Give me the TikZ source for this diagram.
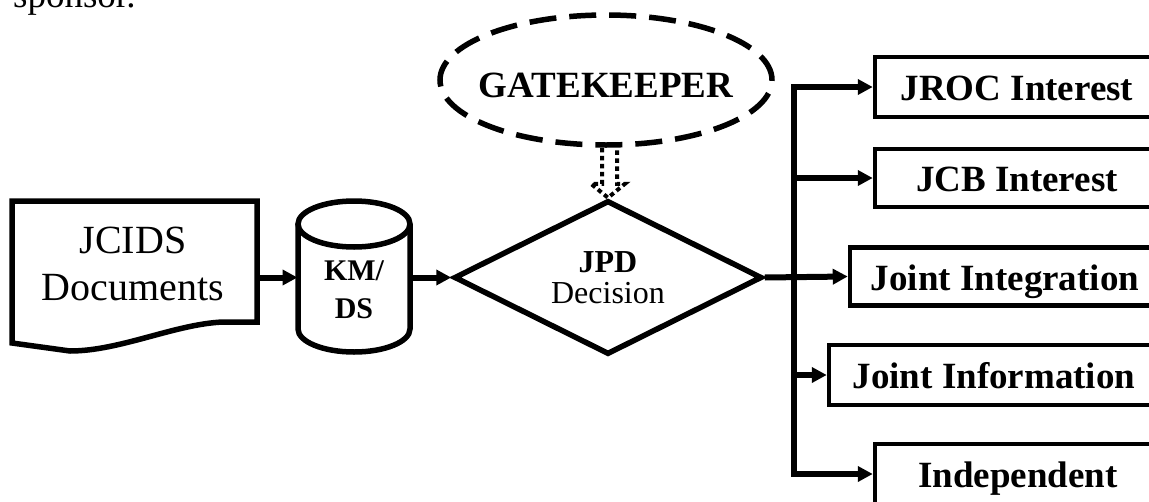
\documentclass[tikz,border=0pt]{standalone}
\usepackage{fontspec}
\setmainfont{Liberation Serif}
\usetikzlibrary{arrows.meta,shapes.geometric,calc}
\begin{document}
\begin{tikzpicture}[x=1pt,y=-1pt,
  >={Triangle[length=15pt,width=15pt]},
  outline/.style={draw,line width=5.5pt,line join=miter},
  conn/.style={line width=6pt},
  box/.style={draw,line width=4.5pt,inner sep=0pt,text height=27pt,text depth=0pt,
    font=\fontsize{37}{40}\selectfont\bfseries},
  dotline/.style={line width=4pt,dash pattern=on 4.5pt off 3.5pt}
]
\clip (0,0) rectangle (1149,501);

% cut-off text at top (cut in the reference too)
\node[anchor=base west,inner sep=0pt,font=\fontsize{37}{40}\selectfont] (sp) at (13,7) {sponsor.};

% JCIDS document
\node[minimum width=245pt,minimum height=142pt,inner sep=0pt,outer sep=0pt] (doc) at (134.5,272) {};
\draw[outline] (12,201) -- (257,201) -- (257,322) -- (223,322)
  .. controls (175,324) and (120,351) .. (70,351) -- (12,343) -- cycle;
\node[font=\fontsize{40}{47}\selectfont,align=center,inner sep=0pt] (docT) at (133,263.5) {JCIDS\\Documents};

% KM/DS cylinder
\node[minimum width=113pt,minimum height=151pt,inner sep=0pt,outer sep=0pt] (km) at (354,277.5) {};
\draw[outline] (298,224) -- (298,329) arc[start angle=180,end angle=0,x radius=56,y radius=23] -- (410,224);
\draw[outline] (354,224) ellipse [x radius=56,y radius=23];
\node[font=\fontsize{30}{38}\selectfont\bfseries,align=center,inner sep=0pt] (kmT) at (354,290) {KM/\\DS};

% JPD decision
\node[diamond,draw,line width=5.5pt,aspect=2,minimum width=308pt,minimum height=154pt,inner sep=0pt,
  align=center,font=\fontsize{32}{31}\selectfont] (dec) at (608,277.5) {\bfseries JPD\\Decision};

% Gatekeeper
\node[ellipse,draw,line width=5.5pt,dash pattern=on 27pt off 13pt,minimum width=332pt,minimum height=130pt,
  inner sep=0pt,text height=34pt,text depth=0pt,font=\fontsize{37}{40}\selectfont\bfseries] (gk) at (606,80)
  {\makebox[0pt]{GATEKEEPER}};

% outcome boxes
\node[box,minimum width=284pt,minimum height=60pt] (jroc) at (1017,87) {JROC Interest};
\node[box,minimum width=284pt,minimum height=58pt] (jcb) at (1017,178) {JCB Interest};
\node[box,minimum width=310pt,minimum height=58pt] (ji) at (1005,276.5) {Joint Integration};
\node[box,minimum width=330pt,minimum height=60pt] (jinfo) at (994,375) {Joint Information};
\node[box,minimum width=286pt,minimum height=60pt] (ind) at (1018,474) {Independent};

% connectors
\draw[conn,->] (doc.east |- km.west) -- (km.west);
\draw[conn,->] (km.east) -- (dec.west);
\coordinate (tr) at (794,0);
\draw[conn,->] (dec.east) -- (ji.west);
\draw[conn,<->] (jroc.west) -- (jroc.west -| tr) -- (ind.west -| tr) -- (ind.west);
\draw[conn,->] (jcb.west -| tr) -- (jcb.west);
\draw[conn,->] (jinfo.west -| tr) -- (jinfo.west);

% hollow dotted arrow from gatekeeper to decision
\coordinate (tipL) at ($(dec.north)+(-6,0)$);
\coordinate (tipR) at ($(dec.north)+(9,0)$);
\draw[dotline] (tipL |- gk.south) -- ($(tipL)+(0,-14)$) -- ($(dec.north)+(-17,-14)$) -- (dec.north)
  -- ($(dec.north)+(17,-14)$) -- ($(tipR)+(0,-14)$) -- (tipR |- gk.south);
\end{tikzpicture}
\end{document}
